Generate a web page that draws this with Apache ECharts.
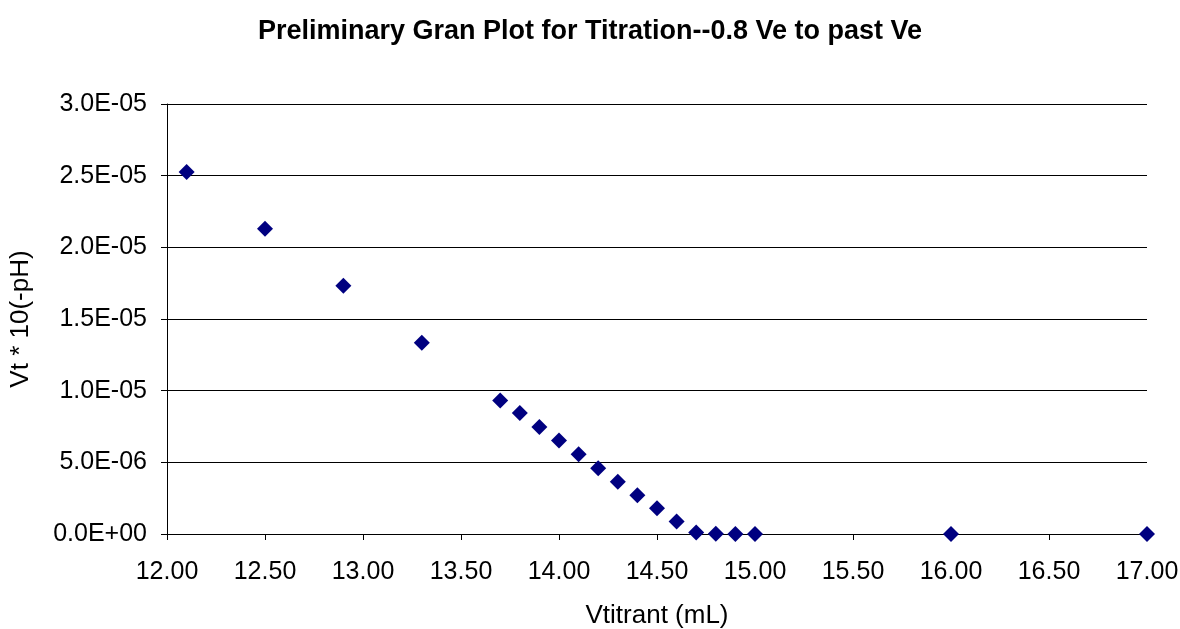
<!DOCTYPE html>
<html>
<head>
<meta charset="utf-8">
<script src="https://cdn.jsdelivr.net/npm/echarts@6/dist/echarts.min.js"></script>
<style>
  html, body { margin: 0; padding: 0; background: #fff; }
  #main { width: 1180px; height: 629px; }
</style>
</head>
<body>
<div id="main"></div>
<script>
// titrant volume (mL)
var vTitrant = [12.1, 12.5, 12.9, 13.3, 13.7, 13.8, 13.9, 14.0, 14.1, 14.2,
                14.3, 14.4, 14.5, 14.6, 14.7, 14.8, 14.9, 15.0, 16.0, 17.0];
// Vt * 10^(-pH)
var granY = [2.526e-5, 2.129e-5, 1.732e-5, 1.334e-5, 9.32e-6, 8.45e-6, 7.47e-6, 6.52e-6, 5.56e-6, 4.59e-6,
             3.64e-6, 2.70e-6, 1.80e-6, 8.7e-7, 1.0e-7, 1.0e-8, 1.0e-9, 1.0e-10, 1.0e-12, 1.0e-14];

var xMin = 12, xMax = 17, xStep = 0.5;
var yMin = 0, yMax = 3e-5, yStep = 5e-6;

function sciLabel(v) {
    // Excel style 0.0E+00
    var s = v.toExponential(1).toUpperCase();
    var parts = s.split('E');
    var exp = parseInt(parts[1], 10);
    var sign = exp < 0 ? '-' : '+';
    var e = Math.abs(exp);
    return parts[0] + 'E' + sign + (e < 10 ? '0' + e : e);
}

var points = vTitrant.map(function (x, i) { return [x, granY[i]]; });

var myChart = echarts.init(document.getElementById('main'));
var option = {
    backgroundColor: '#fff',
    animation: false,
    textStyle: { fontFamily: 'Liberation Sans, Arial, sans-serif' },
    title: {
        text: 'Preliminary Gran Plot for Titration--0.8 Ve to past Ve',
        left: 'center',
        top: 13,
        textStyle: { fontSize: 27, fontWeight: 'bold', color: '#000', fontFamily: 'Liberation Sans, Arial, sans-serif' }
    },
    grid: { left: 167, right: 33, top: 104, bottom: 95, outerBoundsMode: 'none', containLabel: false },
    xAxis: {
        type: 'value',
        min: xMin, max: xMax, interval: xStep,
        name: 'Vtitrant (mL)',
        nameLocation: 'middle',
        nameGap: 69,
        nameTextStyle: { fontSize: 26, color: '#000' },
        axisLine: { show: true, lineStyle: { color: '#000', width: 1 } },
        axisTick: { show: true, length: 6, lineStyle: { color: '#000' } },
        splitLine: { show: false },
        axisLabel: {
            fontSize: 25, color: '#000', margin: 26,
            formatter: function (v) { return v.toFixed(2); }
        }
    },
    yAxis: {
        type: 'value',
        min: yMin, max: yMax, interval: yStep,
        name: 'Vt * 10(-pH)',
        nameLocation: 'middle',
        nameGap: 133,
        nameRotate: 90,
        nameTextStyle: { fontSize: 26, color: '#000' },
        axisLine: { show: true, lineStyle: { color: '#000', width: 1 } },
        axisTick: { show: true, length: 6, lineStyle: { color: '#000' } },
        splitLine: { show: true, lineStyle: { color: '#000', width: 1 } },
        axisLabel: {
            fontSize: 25, color: '#000', margin: 20,
            formatter: sciLabel
        }
    },
    series: [{
        type: 'scatter',
        data: points,
        symbol: 'diamond',
        symbolSize: [16, 16],
        itemStyle: { color: '#000080', opacity: 1 }
    }]
};
myChart.setOption(option);
window.addEventListener('resize', function () { myChart.resize(); });
</script>
</body>
</html>
